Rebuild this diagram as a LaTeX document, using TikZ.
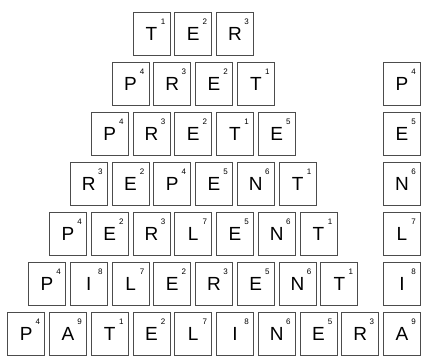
\documentclass[tikz,border=0pt]{standalone}
\usepackage{fontspec}
\setmainfont{Liberation Sans}
\begin{document}
\begin{tikzpicture}[x=1pt,y=-1pt,
  tile/.style={draw=black!70, line width=0.8pt, fill=white, minimum width=37pt,
    minimum height=43pt, inner sep=0pt, anchor=north west, font=\fontsize{19}{19}\selectfont},
  num/.style={inner sep=0pt, font=\fontsize{8}{8}\selectfont}]
\useasboundingbox (0,0) rectangle (421,356);
\foreach \r/\lst in {
  1/{T/1,E/2,R/3},
  2/{P/4,R/3,E/2,T/1},
  3/{P/4,R/3,E/2,T/1,E/5},
  4/{R/3,E/2,P/4,E/5,N/6,T/1},
  5/{P/4,E/2,R/3,L/7,E/5,N/6,T/1},
  6/{P/4,I/8,L/7,E/2,R/3,E/5,N/6,T/1},
  7/{P/4,A/9,T/1,E/2,L/7,I/8,N/6,E/5,R/3}} {
  \foreach \L/\n [count=\c] in \lst {
    \pgfmathsetmacro{\xx}{7.3+(7-\r)*20.875+(\c-1)*41.75}
    \pgfmathsetmacro{\yy}{11.9+(\r-1)*50}
    \node[tile] (t\r-\c) at (\xx,\yy) {\raisebox{-1pt}{\L}};
    \node[num] (n\r-\c) at ([xshift=30.5pt,yshift=-10pt]t\r-\c.north west) {\n};
  }
}
\foreach \r/\L/\n in {2/P/4,3/E/5,4/N/6,5/L/7,6/I/8,7/A/9} {
  \pgfmathsetmacro{\yy}{11.9+(\r-1)*50}
  \node[tile] (rc\r) at (383.05,\yy) {\raisebox{-1pt}{\L}};
  \node[num] (rn\r) at ([xshift=30.5pt,yshift=-10pt]rc\r.north west) {\n};
}
\end{tikzpicture}
\end{document}
